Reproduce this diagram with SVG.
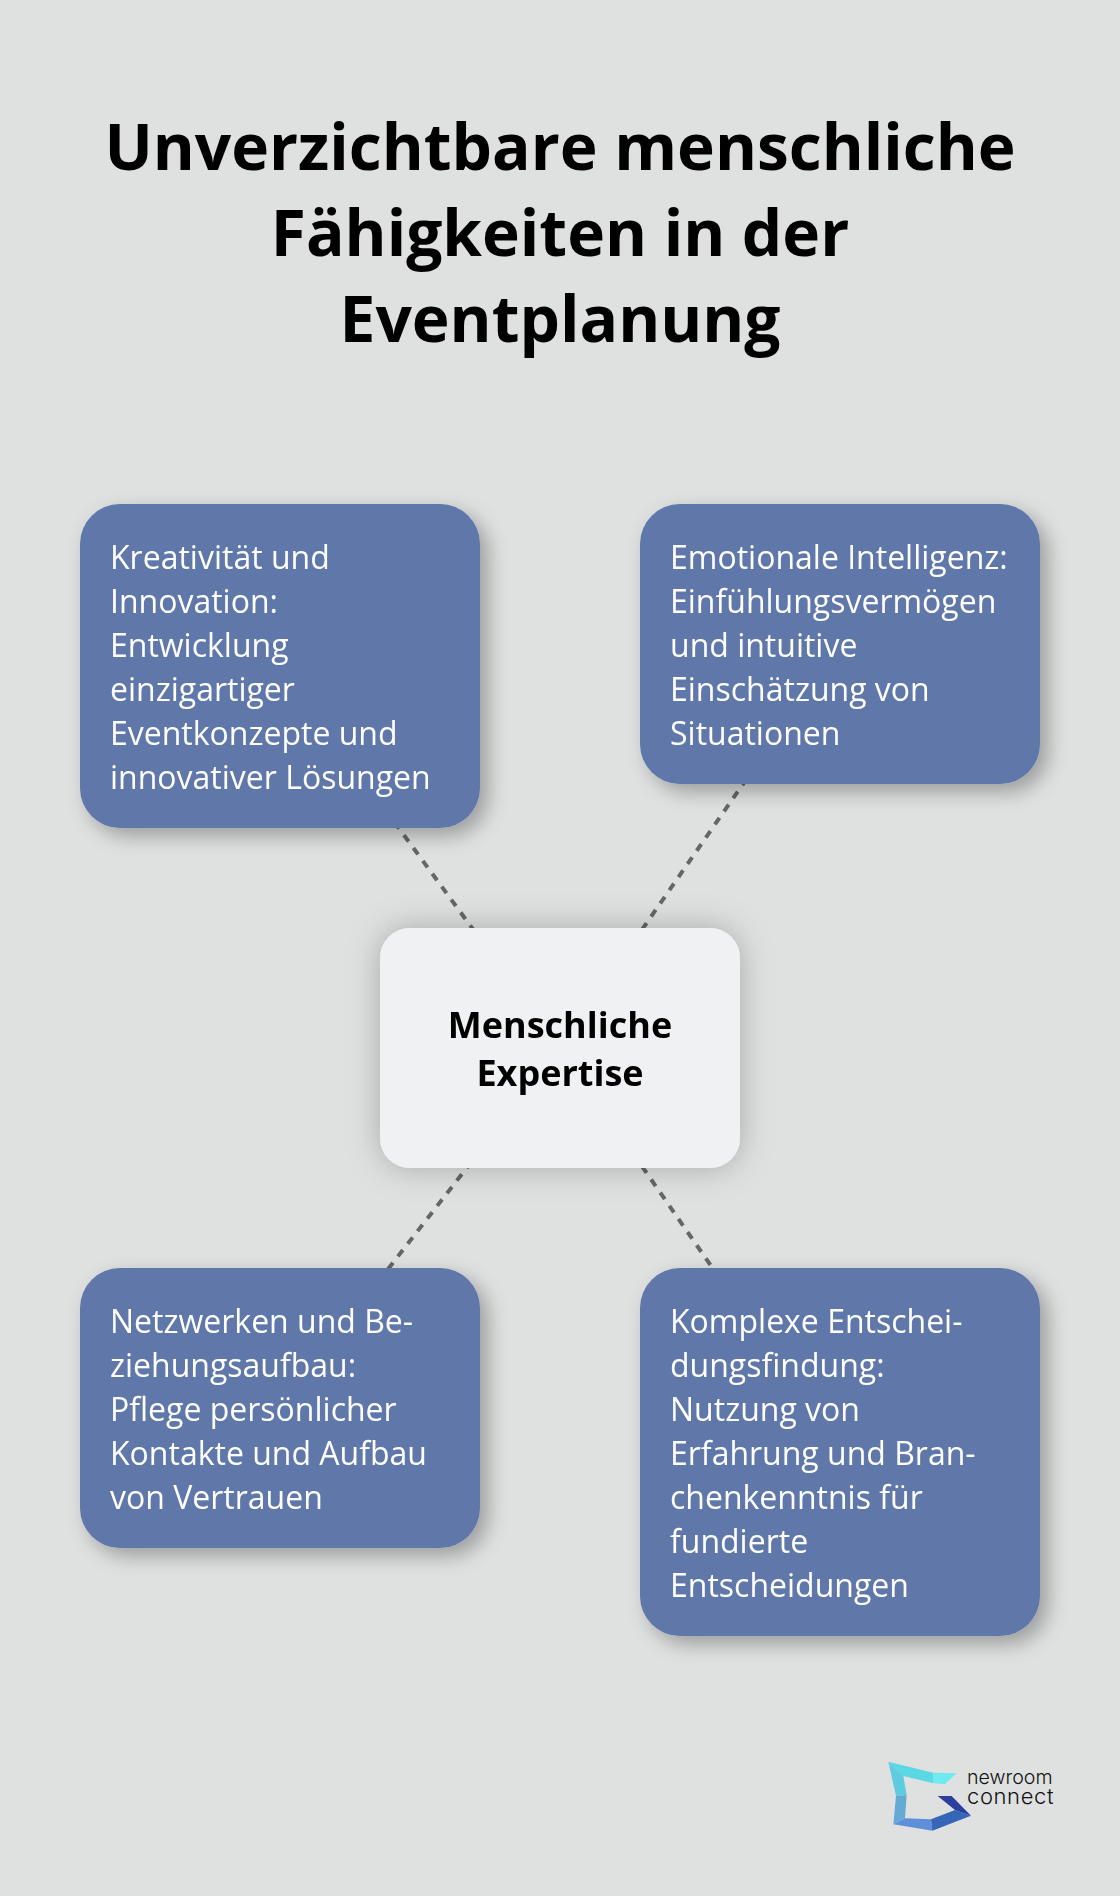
<svg xmlns="http://www.w3.org/2000/svg" width="1120" height="1896" viewBox="0 0 1120 1896">
<style>
.t{opacity:.995}
.title{font:700 64px "Open Sans",sans-serif;fill:#000;text-anchor:middle}
.c{font:400 32px "Open Sans",sans-serif;fill:#fff}
.m{font:700 36px "Open Sans",sans-serif;fill:#000;text-anchor:middle}
.card{fill:#5e77a9;filter:url(#s)}
.center{fill:#f0f1f3;filter:url(#s2)}
.l{stroke:#666;stroke-width:4;stroke-dasharray:8 8;fill:none}
.logo{font:300 19.6px Inter,sans-serif;fill:#111}
</style>
<defs>
<filter id="s" x="-20%" y="-20%" width="140%" height="140%"><feDropShadow dx="8" dy="8" stdDeviation="10" flood-color="#000" flood-opacity="0.3"/></filter>
<filter id="s2" x="-30%" y="-30%" width="160%" height="160%"><feDropShadow dx="0" dy="0" stdDeviation="16" flood-color="#000" flood-opacity="0.25"/></filter>
</defs>
<rect width="1120" height="1896" fill="#dfe1e1"/>
<g id="title" class="t">
<text class="title" x="560" y="170">Unverzichtbare menschliche</text>
<text class="title" x="560" y="256">Fähigkeiten in der</text>
<text class="title" x="560" y="342">Eventplanung</text>
</g>
<g id="connectors">
<line class="l" x1="560" y1="1048" x2="280" y2="666"/>
<line class="l" x1="560" y1="1048" x2="840" y2="644"/>
<line class="l" x1="560" y1="1048" x2="280" y2="1408"/>
<line class="l" x1="560" y1="1048" x2="840" y2="1452"/>
</g>
<g id="n1"><rect class="card" x="80" y="504" width="400" height="324" rx="40"/>
<g class="t"><text class="c" x="110" y="568.5">Kreativität und</text><text class="c" x="110" y="612.5">Innovation:</text><text class="c" x="110" y="656.5">Entwicklung</text><text class="c" x="110" y="700.5">einzigartiger</text><text class="c" x="110" y="744.5">Eventkonzepte und</text><text class="c" x="110" y="788.5">innovativer Lösungen</text></g></g>
<g id="n2"><rect class="card" x="640" y="504" width="400" height="280" rx="40"/>
<g class="t"><text class="c" x="670" y="568.5">Emotionale Intelligenz:</text><text class="c" x="670" y="612.5">Einfühlungsvermögen</text><text class="c" x="670" y="656.5">und intuitive</text><text class="c" x="670" y="700.5">Einschätzung von</text><text class="c" x="670" y="744.5">Situationen</text></g></g>
<g id="n3"><rect class="card" x="80" y="1268" width="400" height="280" rx="40"/>
<g class="t"><text class="c" x="110" y="1332.5">Netzwerken und Be-</text><text class="c" x="110" y="1376.5">ziehungsaufbau:</text><text class="c" x="110" y="1420.5">Pflege persönlicher</text><text class="c" x="110" y="1464.5">Kontakte und Aufbau</text><text class="c" x="110" y="1508.5">von Vertrauen</text></g></g>
<g id="n4"><rect class="card" x="640" y="1268" width="400" height="368" rx="40"/>
<g class="t"><text class="c" x="670" y="1332.5">Komplexe Entschei-</text><text class="c" x="670" y="1376.5">dungsfindung:</text><text class="c" x="670" y="1420.5">Nutzung von</text><text class="c" x="670" y="1464.5">Erfahrung und Bran-</text><text class="c" x="670" y="1508.5">chenkenntnis für</text><text class="c" x="670" y="1552.5">fundierte</text><text class="c" x="670" y="1596.5">Entscheidungen</text></g></g>
<g id="center"><rect class="center" x="380" y="928" width="360" height="240" rx="30"/>
<g class="t"><text class="m" x="560" y="1038">Menschliche</text><text class="m" x="560" y="1086">Expertise</text></g></g>
<g id="logo">
<g transform="translate(860 1730) scale(.3333)">
<polygon points="85,95 220,128 220,160 130,138" fill="#5ad8e4"/>
<polygon points="220,128 290,130 255,162 220,160" fill="#6eeaf0"/>
<polygon points="85,95 130,138 140,195 108,198" fill="#5fcbe0"/>
<polygon points="108,198 140,195 135,265 100,283" fill="#65aad2"/>
<polygon points="100,283 135,265 213,268 217,302" fill="#5f8fd8"/>
<polygon points="217,302 213,268 285,240 333,257" fill="#3566b8"/>
<polygon points="285,240 333,257 275,198 233,198" fill="#2a3f9e"/>
</g>
<text class="logo" x="967" y="1784">newroom</text>
<text class="logo" x="967" y="1804" style="font-size:22px;letter-spacing:.6px">connect</text>
</g>
</svg>
